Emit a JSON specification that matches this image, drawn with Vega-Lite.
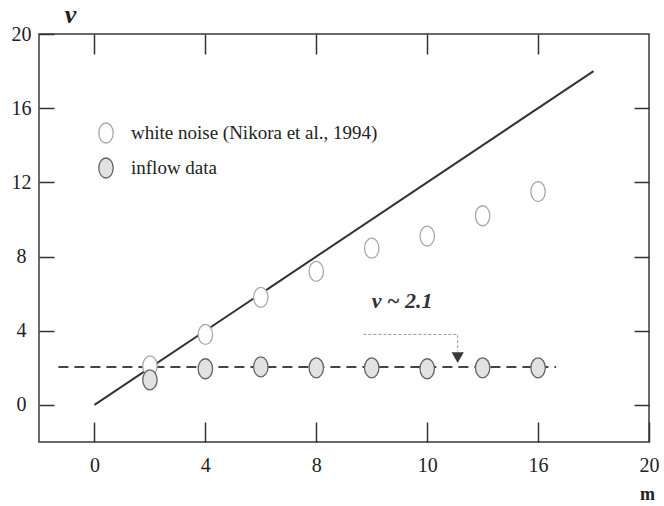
{
  "$schema": "https://vega.github.io/schema/vega-lite/v6.json",
  "width": 610,
  "height": 408,
  "autosize": {"type": "none"},
  "padding": {"left": 39, "top": 34, "right": 15, "bottom": 64},
  "background": "white",
  "config": {
    "view": {"stroke": "#3a3a3a", "strokeWidth": 1.5},
    "font": "Liberation Serif",
    "axis": {"domain": false, "grid": false, "labelFont": "Liberation Serif", "titleFont": "Liberation Serif", "tickColor": "#333", "tickWidth": 1.5, "labelColor": "#222", "labelFontSize": 20, "labelFlush": false, "labelOverlap": false, "labelBound": false}
  },
  "datasets": {
    "fit": [{"m": 0, "v": 0}, {"m": 18, "v": 18}],
    "mean": [{"m": -1.3, "v": 2.05}, {"m": 16.65, "v": 2.05}],
    "arrow": [{"m": 9.7, "v": 3.8, "o": 1}, {"m": 13.1, "v": 3.8, "o": 2}, {"m": 13.1, "v": 2.9, "o": 3}],
    "tip": [{"m": 13.1, "v": 2.55}],
    "label": [{"m": 11.1, "v": 5.6, "t": "v ~ 2.1"}],
    "points": [
      {"m": 2, "v": 2.1, "series": "white noise (Nikora et al., 1994)"},
      {"m": 4, "v": 3.8, "series": "white noise (Nikora et al., 1994)"},
      {"m": 6, "v": 5.8, "series": "white noise (Nikora et al., 1994)"},
      {"m": 8, "v": 7.2, "series": "white noise (Nikora et al., 1994)"},
      {"m": 10, "v": 8.45, "series": "white noise (Nikora et al., 1994)"},
      {"m": 12, "v": 9.1, "series": "white noise (Nikora et al., 1994)"},
      {"m": 14, "v": 10.2, "series": "white noise (Nikora et al., 1994)"},
      {"m": 16, "v": 11.5, "series": "white noise (Nikora et al., 1994)"},
      {"m": 2, "v": 1.35, "series": "inflow data"},
      {"m": 4, "v": 1.95, "series": "inflow data"},
      {"m": 6, "v": 2.05, "series": "inflow data"},
      {"m": 8, "v": 2.0, "series": "inflow data"},
      {"m": 10, "v": 2.0, "series": "inflow data"},
      {"m": 12, "v": 1.95, "series": "inflow data"},
      {"m": 14, "v": 2.0, "series": "inflow data"},
      {"m": 16, "v": 2.0, "series": "inflow data"}
    ]
  },
  "layer": [
    {
      "data": {"name": "fit"},
      "mark": {"type": "line", "color": "#333", "strokeWidth": 2},
      "encoding": {
        "x": {"field": "m", "type": "quantitative", "scale": {"domain": [-2, 20], "nice": false, "zero": false},
          "axis": {"orient": "bottom", "values": [0, 4, 8, 12, 16, 20], "labelExpr": "datum.value == 12 ? '10' : datum.label", "tickSize": -20, "labelPadding": 33, "title": "m", "titleFontSize": 18, "titleFontWeight": "bold", "titleColor": "#222", "titleX": 608, "titleY": 52, "titleAlign": "center", "titleBaseline": "middle"}},
        "y": {"field": "v", "type": "quantitative", "scale": {"domain": [-2, 20], "nice": false, "zero": false},
          "axis": {"orient": "left", "values": [0, 4, 8, 12, 16, 20], "tickSize": -15, "labelPadding": 33, "labelAlign": "center", "title": "v", "titleFontSize": 26, "titleFontWeight": "bold", "titleFontStyle": "italic", "titleColor": "#222", "titleAngle": 0, "titleX": 31, "titleY": -20, "titleAlign": "center", "titleBaseline": "middle"}}
      }
    },
    {
      "data": {"name": "mean"},
      "mark": {"type": "line", "color": "#444", "strokeWidth": 2, "strokeDash": [10, 6]},
      "encoding": {
        "x": {"field": "m", "type": "quantitative", "scale": {"domain": [-2, 20], "nice": false, "zero": false},
          "axis": {"orient": "top", "values": [0, 4, 8, 12, 16], "tickSize": -20, "labels": false, "title": null}},
        "y": {"field": "v", "type": "quantitative", "scale": {"domain": [-2, 20], "nice": false, "zero": false},
          "axis": {"orient": "right", "values": [0, 4, 8, 12, 16], "tickSize": -15, "labels": false, "title": null}}
      }
    },
    {
      "data": {"name": "arrow"},
      "mark": {"type": "line", "color": "#999", "strokeWidth": 1, "strokeDash": [3, 2]},
      "encoding": {
        "x": {"field": "m", "type": "quantitative", "scale": {"domain": [-2, 20], "nice": false, "zero": false}, "axis": null},
        "y": {"field": "v", "type": "quantitative", "scale": {"domain": [-2, 20], "nice": false, "zero": false}, "axis": null},
        "order": {"field": "o"}
      }
    },
    {
      "data": {"name": "tip"},
      "mark": {"type": "point", "shape": "triangle-down", "size": 150, "filled": true, "color": "#3a3a3a", "opacity": 1},
      "encoding": {
        "x": {"field": "m", "type": "quantitative", "scale": {"domain": [-2, 20], "nice": false, "zero": false}, "axis": null},
        "y": {"field": "v", "type": "quantitative", "scale": {"domain": [-2, 20], "nice": false, "zero": false}, "axis": null}
      }
    },
    {
      "data": {"name": "points"},
      "mark": {"type": "point", "shape": "M -0.72 0 A 0.72 1 0 1 0 0.72 0 A 0.72 1 0 1 0 -0.72 0 Z", "size": 400, "strokeWidth": 1.3, "opacity": 1},
      "encoding": {
        "x": {"field": "m", "type": "quantitative", "scale": {"domain": [-2, 20], "nice": false, "zero": false}, "axis": null},
        "y": {"field": "v", "type": "quantitative", "scale": {"domain": [-2, 20], "nice": false, "zero": false}, "axis": null},
        "fill": {"field": "series", "type": "nominal", "scale": {"domain": ["white noise (Nikora et al., 1994)", "inflow data"], "range": ["#ffffff", "#e2e2e2"]},
          "legend": {"orient": "none", "legendX": 56, "legendY": 88, "title": null, "padding": 0, "rowPadding": 9, "labelOffset": 14, "labelFont": "Liberation Serif", "labelFontSize": 19, "labelColor": "#222", "labelLimit": 400, "symbolSize": 400, "symbolStrokeWidth": 1.3}},
        "stroke": {"field": "series", "type": "nominal", "scale": {"domain": ["white noise (Nikora et al., 1994)", "inflow data"], "range": ["#a8a8a8", "#666666"]}}
      }
    },
    {
      "data": {"name": "label"},
      "mark": {"type": "text", "font": "Liberation Serif", "fontSize": 22, "fontWeight": "bold", "fontStyle": "italic", "color": "#333", "align": "center", "baseline": "middle"},
      "encoding": {
        "x": {"field": "m", "type": "quantitative", "scale": {"domain": [-2, 20], "nice": false, "zero": false}, "axis": null},
        "y": {"field": "v", "type": "quantitative", "scale": {"domain": [-2, 20], "nice": false, "zero": false}, "axis": null},
        "text": {"field": "t"}
      }
    }
  ],
  "resolve": {"axis": {"x": "independent", "y": "independent"}}
}
